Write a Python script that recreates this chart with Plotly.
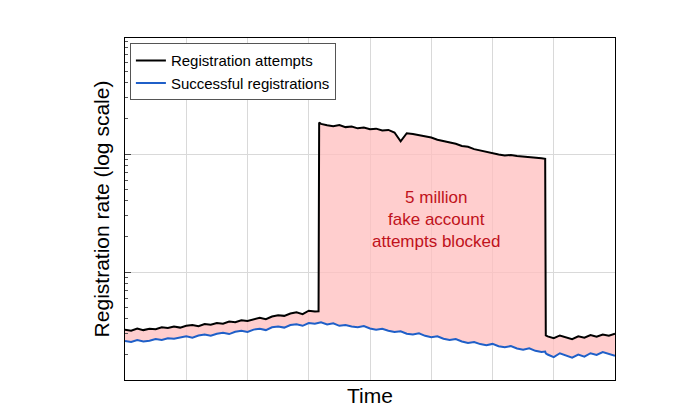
import numpy as np
import plotly.graph_objects as go

# time axis: regular steps plus the two steep edges
t_a = [round(i / 10, 2) for i in range(0, 32)]
t_b = [round(3.2 + i / 10, 2) for i in range(0, 37)]
t_c = [round(6.9 + i / 10, 2) for i in range(0, 12)]
times = t_a + [3.16, 3.17] + t_b + [6.86, 6.87] + t_c

attempts = ([325, 318, 332, 322, 330, 328, 340, 335, 345, 338, 350, 355, 348, 362, 358, 370,
             365, 380, 375, 390, 385, 400, 410, 398, 420, 430, 425, 445, 455, 440, 470, 462]
            + [465, 18500]
            + [18000, 17500, 17200, 17600, 16900, 17100, 16500, 16800, 16200, 16400, 15800,
               16000, 15200, 12800,
               15000, 14800, 14500, 14000, 13800, 13200, 12900, 12500, 12200, 11700, 11500,
               11000, 10700, 10400, 10100, 9900, 9700, 9800, 9600, 9500, 9400, 9400, 9200]
            + [9100, 290]
            + [285, 275, 290, 280, 270, 285, 278, 292, 283, 295, 288, 300])

successful = ([260, 255, 265, 258, 262, 270, 266, 275, 272, 280, 285, 278, 290, 295, 288, 300,
               305, 298, 312, 318, 310, 325, 330, 322, 340, 345, 338, 355, 360, 350, 370, 365]
              + [372, 372]
              + [375, 360, 368, 350, 355, 345, 340, 348, 332, 325, 330, 318, 310, 315, 300,
                 295, 302, 288, 280, 285, 272, 265, 270, 258, 250, 255, 245, 240, 246, 235,
                 230, 236, 225, 220, 226, 215, 210]
              + [212, 205]
              + [200, 190, 205, 195, 188, 200, 192, 205, 198, 210, 202, 195])

fig = go.Figure()
# pink band between the two series (kept out of the legend)
fig.add_trace(go.Scatter(x=times, y=successful, mode='lines', line=dict(width=0),
                         showlegend=False, hoverinfo='skip'))
fig.add_trace(go.Scatter(x=times, y=attempts, mode='lines', line=dict(width=0),
                         fill='tonexty', fillcolor='rgba(255,190,190,0.75)',
                         showlegend=False, hoverinfo='skip'))
fig.add_trace(go.Scatter(x=times, y=attempts, mode='lines', name='Registration attempts',
                         line=dict(color='black', width=2)))
fig.add_trace(go.Scatter(x=times, y=successful, mode='lines', name='Successful registrations',
                         line=dict(color='#1f5fc8', width=2)))

fig.add_annotation(x=5.08, y=np.log10(2760), text='5 million<br>fake account<br>attempts blocked',
                   showarrow=False, font=dict(size=17, color='#c0121b'))

fig.update_layout(
    width=700, height=419,
    margin=dict(l=117, r=93, t=30, b=47, autoexpand=False),
    plot_bgcolor='white', paper_bgcolor='white',
    font=dict(family='Liberation Sans, Arial', color='black'),
    legend=dict(x=0.01, y=0.985, xanchor='left', yanchor='top', bgcolor='white',
                bordercolor='#555', borderwidth=1, font=dict(size=15),
                traceorder='normal'),
)
fig.update_xaxes(range=[0, 8], dtick=1, showticklabels=False, showgrid=True,
                 gridcolor='#d9d9d9', showline=True, mirror=True, linecolor='black',
                 title=dict(text='Time', font=dict(size=21), standoff=8), zeroline=False,
                 automargin=False)
fig.update_yaxes(type='log', range=[2.085, 4.983], dtick=1, showticklabels=False,
                 showgrid=True, gridcolor='#d9d9d9', showline=True, mirror=True,
                 linecolor='black', ticks='inside', ticklen=6, automargin=False,
                 minor=dict(ticks='inside', ticklen=3, showgrid=False, tickcolor='#555'),
                 title=dict(text='Registration rate (log scale)', font=dict(size=21), standoff=8))

fig.write_html("out.html")
